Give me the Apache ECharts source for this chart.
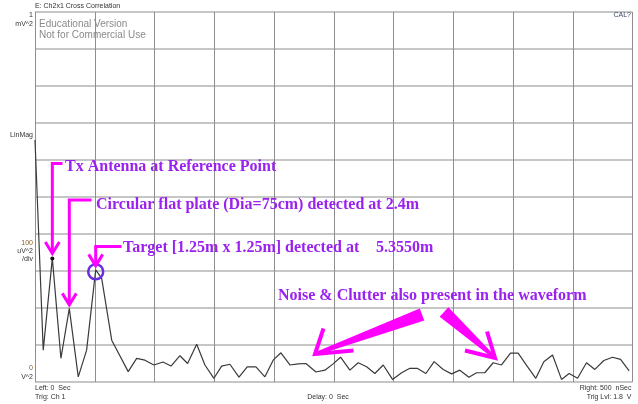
<!DOCTYPE html>
<html>
<head>
<meta charset="utf-8">
<script src="https://cdn.jsdelivr.net/npm/echarts@6/dist/echarts.min.js"></script>
<style>
  html, body { margin: 0; padding: 0; background: #fff; }
  #chart { width: 638px; height: 404px; }
</style>
</head>
<body>
<div id="chart"></div>
<script>
// Cross-correlation trace: time (nSec) and magnitude (uV^2)
const timeNs = [
  0, 6.9, 14.5, 21.7, 28.7, 36.2, 43.2, 50.8, 55.8, 64.2,
  78.0, 85.1, 92.0, 99.5, 107.1, 113.8, 121.3, 127.7, 135.3, 142.2,
  149.7, 156.2, 163.1, 170.7, 177.6, 184.9, 192.4, 199.3, 205.8, 213.3,
  220.3, 226.7, 235.1, 242.6, 249.5, 255.7, 263.5, 270.5, 277.5, 284.4,
  291.4, 299.2, 306.8, 313.7, 319.8, 327.1, 334.0, 341.6, 348.6, 355.5,
  363.1, 369.5, 376.4, 383.4, 390.4, 397.9, 404.3, 411.8, 419.1, 425.8,
  433.1, 440.6, 447.0, 454.0, 461.5, 468.5, 476.0, 483.3, 490.0, 497.2
];
const powerUv2 = [
  654, 86, 334, 64, 199, 14, 86, 303, 280, 113,
  28, 64, 59, 46, 54, 43, 71, 50, 102, 46,
  10, 43, 48, 13, 41, 41, 14, 59, 79, 46,
  49, 50, 27, 32, 49, 67, 32, 52, 41, 23,
  46, 7, 25, 37, 37, 23, 55, 34, 22, 32,
  13, 25, 25, 52, 46, 78, 78, 43, 10, 55,
  73, 7, 23, 10, 52, 34, 58, 67, 61, 30
];
// Indices of the reflections that are called out
const txPeak = 2;
const platePeak = 4;
const targetPeak = 7;

const xRange = [0, 500];      // Left: 0 Sec .. Right: 500 nSec
const yRange = [0, 1000];     // 0 V^2 .. 1 mV^2, 100 uV^2/div

const headerText = 'E: Ch2x1 Cross Correlation';
const calText = 'CAL?';
const footLeft = ['Left: 0  Sec', 'Trig: Ch 1'];
const footMid = 'Delay: 0  Sec';
const footRight = ['Right: 500  nSec', 'Trig Lvl: 1.8  V'];
const watermark = ['Educational Version', 'Not for Commercial Use'];
const notes = {
  tx: 'Tx Antenna at Reference Point',
  plate: 'Circular flat plate (Dia=75cm) detected at 2.4m',
  target: 'Target [1.25m x 1.25m] detected at',
  targetRange: '5.3550m',
  noise: 'Noise & Clutter also present in the waveform'
};

const chart = echarts.init(document.getElementById('chart'), null, { renderer: 'canvas' });

const traceData = timeNs.map((t, i) => [t, powerUv2[i]]);

chart.setOption({
  animation: false,
  backgroundColor: '#ffffff',
  grid: { left: 35, right: 5.5, top: 12, bottom: 22, containLabel: false },
  xAxis: {
    type: 'value', min: xRange[0], max: xRange[1], interval: 50,
    axisLine: { show: false }, axisTick: { show: false }, axisLabel: { show: false },
    splitLine: { show: true, lineStyle: { color: '#8e8e8e', width: 1 } }
  },
  yAxis: {
    type: 'value', min: yRange[0], max: yRange[1], interval: 100,
    axisLine: { show: false }, axisTick: { show: false }, axisLabel: { show: false },
    splitLine: { show: true, lineStyle: { color: '#c6c6c6', width: 2 } }
  },
  series: [{
    type: 'line',
    data: traceData,
    symbol: 'none',
    lineStyle: { color: '#3a3a3a', width: 1.2 },
    markPoint: {
      silent: true,
      label: { show: false },
      data: [
        { coord: traceData[txPeak], symbol: 'circle', symbolSize: 4,
          itemStyle: { color: '#111' } },
        { coord: [traceData[targetPeak][0], traceData[targetPeak][1] - 5], symbol: 'circle', symbolSize: 15,
          itemStyle: { color: 'rgba(0,0,0,0)', borderColor: '#6a2ee0', borderWidth: 2.5 } }
      ]
    },
    z: 3
  }]
});

// ---- annotations and instrument labels ----
const px = (i) => chart.convertToPixel({ seriesIndex: 0 }, traceData[i]);
const MAG = '#ff00ff';
const INK = '#9b22ee';
const small = { fontFamily: 'Liberation Sans, Arial, sans-serif', fontSize: 7, fill: '#333' };
const noteFont = { fontFamily: 'Liberation Serif, Times New Roman, serif', fontSize: 16, fontWeight: 'bold', fill: INK };

function txt(x, y, s, style, align) {
  return { type: 'text', z: 50, silent: true, x, y,
    style: Object.assign({ text: s, textAlign: align || 'left', textVerticalAlign: 'middle' }, style) };
}
function line(points, w) {
  return { type: 'polyline', z: 60, silent: true, shape: { points },
    style: { stroke: MAG, lineWidth: w || 3, fill: null, lineJoin: 'miter' } };
}
// Elbow arrow: from text start, across to the peak column, down onto the peak
function elbowArrow(fromX, rowY, tip) {
  return [
    line([[fromX, rowY], [tip[0], rowY], [tip[0], tip[1]]], 3),
    line([[tip[0] - 7, tip[1] - 11.5], [tip[0], tip[1]], [tip[0] + 7, tip[1] - 11.5]], 3)
  ];
}
// Tapered block arrow with two barbs at the tip
function wedgeArrow(tail, tip, barbA, barbB) {
  const dx = tip[0] - tail[0], dy = tip[1] - tail[1];
  const len = Math.hypot(dx, dy);
  const nx = -dy / len, ny = dx / len;
  const wt = 6.5, wp = 1.5;
  const poly = [
    [tail[0] + nx * wt, tail[1] + ny * wt],
    [tip[0] + nx * wp, tip[1] + ny * wp],
    [tip[0] - nx * wp, tip[1] - ny * wp],
    [tail[0] - nx * wt, tail[1] - ny * wt]
  ];
  return [
    { type: 'polygon', z: 60, silent: true, shape: { points: poly }, style: { fill: MAG } },
    line([barbA, tip, barbB], 4)
  ];
}

const pTx = px(txPeak), pPlate = px(platePeak), pTarget = px(targetPeak);

const elements = [
  txt(35, 6, headerText, small),
  txt(631, 15, calText, Object.assign({}, small, { fill: '#3a4a6a' }), 'right'),
  txt(39, 24, watermark[0], { fontFamily: 'Liberation Sans, Arial, sans-serif', fontSize: 10, fill: '#8a8a8a' }),
  txt(39, 35, watermark[1], { fontFamily: 'Liberation Sans, Arial, sans-serif', fontSize: 10, fill: '#8a8a8a' }),
  // left scale captions
  txt(33, 15, '1', small, 'right'),
  txt(33, 24, 'mV^2', small, 'right'),
  txt(33, 135, 'LinMag', small, 'right'),
  txt(33, 243, '100', Object.assign({}, small, { fill: '#8a5a20' }), 'right'),
  txt(33, 251, 'uV^2', small, 'right'),
  txt(33, 259, '/div', small, 'right'),
  txt(33, 368, '0', Object.assign({}, small, { fill: '#8a5a20' }), 'right'),
  txt(33, 377, 'V^2', small, 'right'),
  // footer
  txt(35, 388.5, footLeft[0], small),
  txt(35, 397, footLeft[1], small),
  txt(328, 397, footMid, small, 'center'),
  txt(631.5, 388.5, footRight[0], small, 'right'),
  txt(631.5, 397, footRight[1], small, 'right'),
  // notes
  txt(65, 167, notes.tx, noteFont),
  txt(96, 205, notes.plate, noteFont),
  txt(123, 247.5, notes.target, noteFont),
  txt(376, 247.5, notes.targetRange, noteFont),
  txt(278, 295.5, notes.noise, noteFont)
];

elements.push(...elbowArrow(62.5, 163.5, [pTx[0], pTx[1] - 5]));
elements.push(...elbowArrow(91.5, 200, [pPlate[0], pPlate[1] - 3.5]));
elements.push(...elbowArrow(121.5, 246.5, [pTarget[0], pTarget[1] - 4]));
elements.push(...wedgeArrow([422, 314.5], [315, 354], [323.5, 328.5], [353.5, 350.5]));
elements.push(...wedgeArrow([444, 312], [495, 358], [487, 331.5], [465, 350.5]));

chart.setOption({ graphic: { elements } });
</script>
</body>
</html>
